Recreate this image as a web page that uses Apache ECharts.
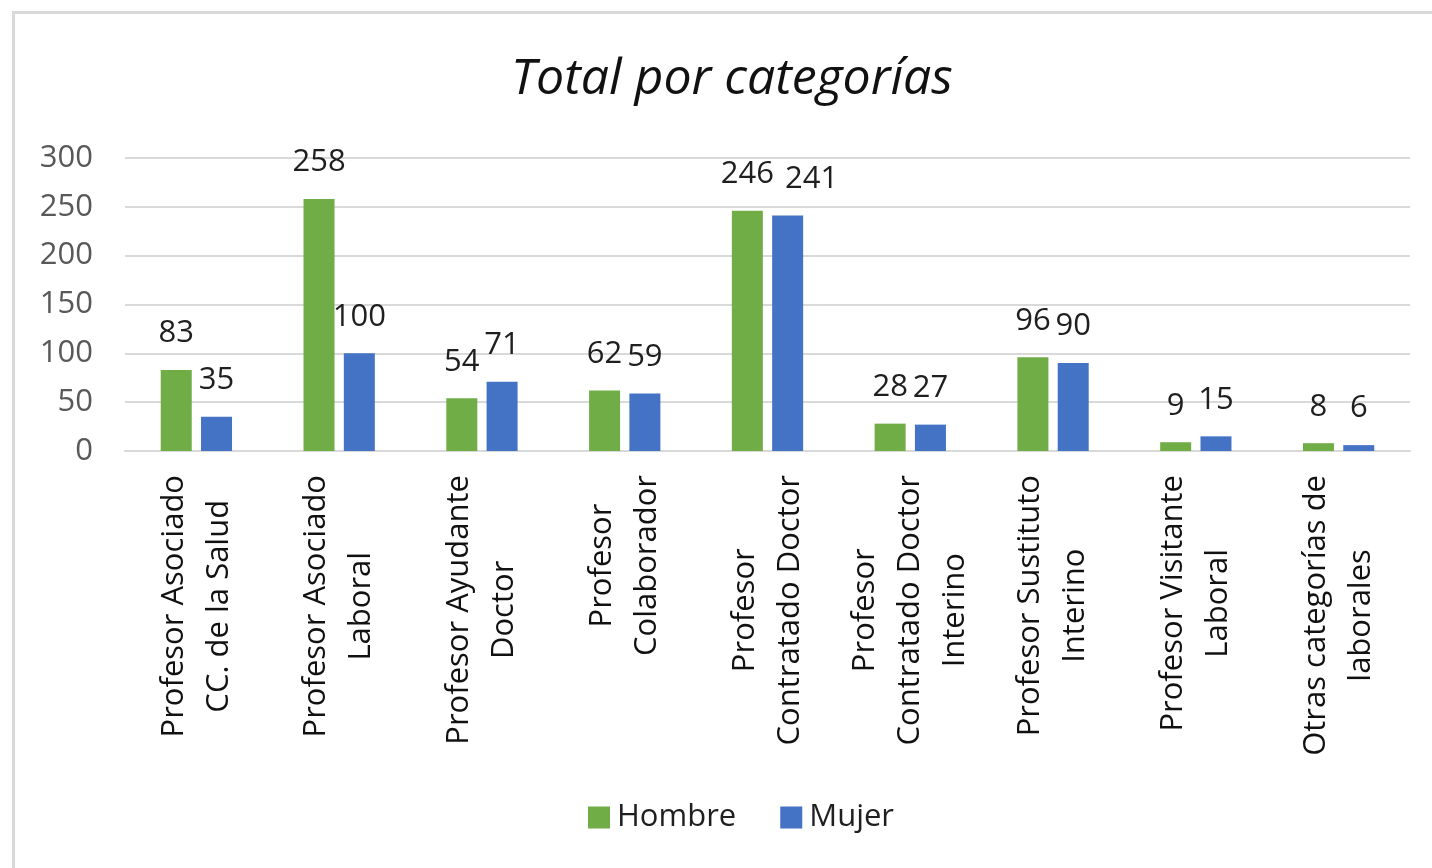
<!DOCTYPE html>
<html>
<head>
<meta charset="utf-8">
<script src="https://cdn.jsdelivr.net/npm/echarts@6/dist/echarts.min.js"></script>
<style>
html,body{margin:0;padding:0;background:#fff;}
#c{width:1432px;height:868px;}
</style>
</head>
<body>
<div id="c"></div>
<script>
const titleText = 'Total por categorías';
const categories = [
  'Profesor Asociado\nCC. de la Salud',
  'Profesor Asociado\nLaboral',
  'Profesor Ayudante\nDoctor',
  'Profesor\nColaborador',
  'Profesor\nContratado Doctor',
  'Profesor\nContratado Doctor\nInterino',
  'Profesor Sustituto\nInterino',
  'Profesor Visitante\nLaboral',
  'Otras categorías de\nlaborales'
];
const seriesNames = ['Hombre', 'Mujer'];
const hombre = [83, 258, 54, 62, 246, 28, 96, 9, 8];
const mujer = [35, 100, 71, 59, 241, 27, 90, 15, 6];
const yTicks = [0, 50, 100, 150, 200, 250, 300];

const FONT = '"Open Sans", "Noto Sans", sans-serif';
const chart = echarts.init(document.getElementById('c'), null, {renderer: 'canvas'});

const labelStyle = {
  show: true, position: 'top', distance: 21,
  fontFamily: FONT, fontSize: 31, color: '#1f1f1f'
};

chart.setOption({
  backgroundColor: '#ffffff',
  animation: false,
  graphic: [{
    type: 'rect', left: 11, top: 10,
    shape: {width: 1440, height: 880},
    style: {fill: 'none', stroke: '#d9d9d9', lineWidth: 3},
    silent: true
  }, {
    type: 'text', x: 732, y: 80,
    style: {
      text: titleText, textAlign: 'center', textVerticalAlign: 'middle',
      font: 'italic 50px "Open Sans", "Noto Sans", sans-serif', fill: '#111'
    },
    silent: true
  }],
  legend: {
    data: seriesNames, top: 797, left: 583,
    icon: 'rect', itemWidth: 22, itemHeight: 22, itemGap: 44,
    textStyle: {fontFamily: FONT, fontSize: 31, color: '#1f1f1f', padding: [0, 0, 0, 2]}
  },
  grid: {left: 125, right: 22, top: 158, bottom: 417, containLabel: false},
  xAxis: {
    type: 'category', data: categories,
    axisLine: {show: true, lineStyle: {color: '#d9d9d9', width: 2}},
    axisTick: {show: false},
    axisLabel: {
      interval: 0, rotate: 90, margin: 24,
      fontFamily: FONT, fontSize: 31, lineHeight: 45, color: '#111',
      formatter: v => v.split('\n').map(s => '{c|' + s + '}').join('\n'),
      rich: {c: {align: 'center', fontFamily: FONT, fontSize: 31, lineHeight: 45, color: '#111'}}
    }
  },
  yAxis: {
    type: 'value', min: yTicks[0], max: yTicks[yTicks.length - 1], interval: 50,
    axisLine: {show: false}, axisTick: {show: false},
    splitLine: {lineStyle: {color: '#d9d9d9', width: 2}},
    axisLabel: {margin: 32, fontFamily: FONT, fontSize: 31, color: '#595959'}
  },
  series: [
    {
      name: seriesNames[0], type: 'bar', data: hombre,
      barWidth: 31, barGap: '30%',
      itemStyle: {color: '#70ad47'},
      label: labelStyle
    },
    {
      name: seriesNames[1], type: 'bar',
      data: mujer.map((v, i) => i === 4 ? {value: v, label: {offset: [24, 0]}} : v),
      barWidth: 31, barGap: '30%',
      itemStyle: {color: '#4472c4'},
      label: labelStyle
    }
  ]
});
</script>
</body>
</html>
